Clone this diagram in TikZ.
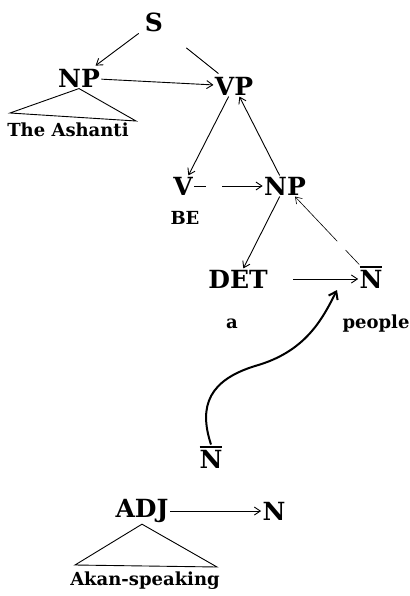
\documentclass[tikz,border=0pt]{standalone}
\usepackage{fontspec}
\setmainfont{DejaVu Serif}
\usetikzlibrary{arrows.meta}
\newcommand{\Nbar}{\vbox{\hrule height 1.8pt\kern 2pt\hbox{N}}}

\begin{document}
\begin{tikzpicture}[x=1pt, y=1pt, >={Straight Barb[length=6pt,width=8pt]}, line width=0.9pt,
    cat/.style={font=\bfseries\fontsize{25}{25}\selectfont, inner sep=1pt},
    word/.style={font=\bfseries\fontsize{18}{18}\selectfont, inner sep=1pt}]
  \useasboundingbox (0,0) rectangle (409,-596);
  % upper tree
  \node[cat] (S)   at (154,-22) {S};
  \node[cat] (NPa) at (79,-78)  {NP};
  \node[cat] (VP)  at (234,-86) {VP};
  \node[word] (ashanti) at (68,-130) {The Ashanti};
  \coordinate (ta) at (10,-113);
  \coordinate (tb) at (136,-121);
  \draw (NPa.south) -- (ta) -- (tb) -- cycle;
  \draw[->, shorten <=6pt, shorten >=3pt] (S) -- (NPa);
  \draw[shorten <=28pt, shorten >=3pt] (S) -- (VP);
  \draw[->] (NPa) -- (VP);
  % predicate
  \node[cat] (V)   at (183,-186) {V};
  \node[word] (be) at (185,-218) {BE};
  \node[cat] (NPb) at (285,-186) {NP};
  \draw[->] (VP) -- (V);
  \draw[->] (NPb) -- (VP);
  \draw[->, dash pattern=on 12pt off 16pt on 100pt] (V) -- (NPb);
  % noun phrase
  \node[cat] (DET)  at (238,-279) {DET};
  \node[cat] (Nb)   at (371,-277) {\Nbar};
  \node[word] (a)   at (232,-324) {a};
  \node[word] (people) at (376,-324) {people};
  \draw[->] (NPb) -- (DET);
  \draw[->, shorten <=24pt] (DET) -- (Nb.west |- DET);
  \draw[->, line width=0.6pt, dash pattern=on 20pt off 12pt on 100pt] (Nb) -- (NPb);
  % adjunct, moved in
  \node[cat] (Nc)  at (211,-457) {\Nbar};
  \coordinate (join) at (337,-290);
  \draw[->, line width=2pt, >={Straight Barb[length=7pt,width=10pt]}]
    (Nc.north) .. controls (198,-405) and (210,-380) .. (255,-366)
               .. controls (305,-352) and (322,-320) .. (join);
  \node[cat] (ADJ) at (142,-511) {ADJ};
  \node[cat] (N)   at (274,-511) {N};
  \node[word] (akan) at (145,-581) {Akan-speaking};
  \coordinate (tc) at (75,-565);
  \coordinate (td) at (217,-567);
  \draw[->] (ADJ) -- (N);
  \draw (ADJ.south) -- (tc) -- (td) -- cycle;
\end{tikzpicture}
\end{document}
